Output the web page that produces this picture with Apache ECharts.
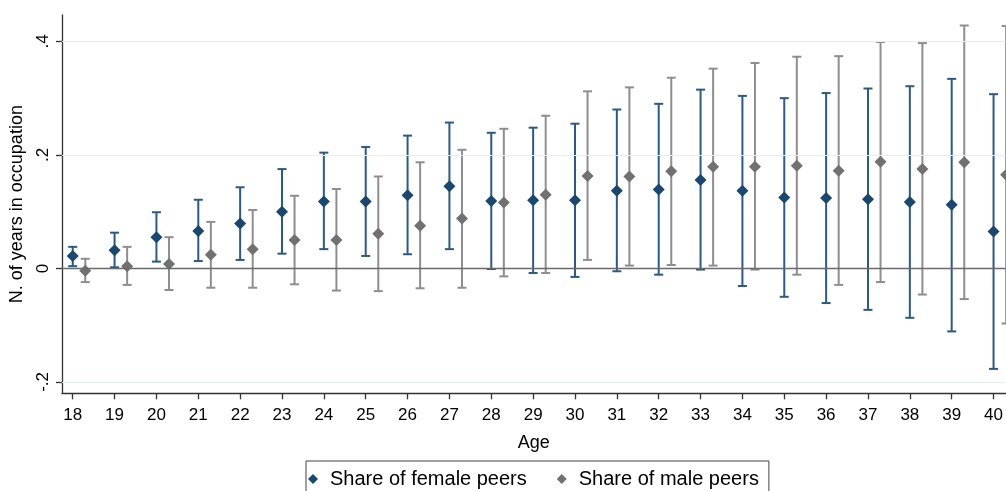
<!DOCTYPE html>
<html>
<head>
<meta charset="utf-8">
<script src="https://cdn.jsdelivr.net/npm/echarts@6/dist/echarts.min.js"></script>
<style>
html,body{margin:0;padding:0;background:#fff;}
#chart{width:1006px;height:491px;}
</style>
</head>
<body>
<div id="chart"></div>
<script>
const ages = [18,19,20,21,22,23,24,25,26,27,28,29,30,31,32,33,34,35,36,37,38,39,40];
const femaleEst = [0.022,0.032,0.055,0.066,0.079,0.100,0.118,0.118,0.129,0.145,0.119,0.120,0.120,0.137,0.139,0.156,0.137,0.125,0.124,0.122,0.117,0.112,0.065];
const femaleLo  = [0.004,0.002,0.012,0.013,0.015,0.026,0.034,0.022,0.025,0.034,-0.001,-0.008,-0.015,-0.005,-0.011,-0.002,-0.031,-0.050,-0.061,-0.073,-0.087,-0.111,-0.177];
const femaleHi  = [0.038,0.063,0.099,0.121,0.143,0.175,0.204,0.214,0.234,0.257,0.239,0.248,0.255,0.280,0.290,0.315,0.304,0.300,0.309,0.317,0.321,0.334,0.307];
const maleEst = [-0.004,0.004,0.008,0.024,0.034,0.050,0.050,0.061,0.075,0.088,0.116,0.130,0.163,0.162,0.171,0.179,0.179,0.181,0.172,0.188,0.175,0.187,0.165];
const maleLo  = [-0.024,-0.029,-0.038,-0.034,-0.034,-0.028,-0.039,-0.040,-0.035,-0.034,-0.014,-0.008,0.015,0.005,0.006,0.005,-0.002,-0.011,-0.029,-0.024,-0.046,-0.054,-0.097];
const maleHi  = [0.017,0.038,0.055,0.082,0.103,0.128,0.140,0.162,0.187,0.209,0.246,0.269,0.312,0.319,0.336,0.352,0.362,0.373,0.374,0.399,0.397,0.428,0.427];
const yTicks = [-0.2, 0, 0.2, 0.4];
const seriesNames = ['Share of female peers', 'Share of male peers'];
const xTitle = 'Age';
const yTitle = 'N. of years in occupation';

const MALE_OFFSET = 0.3;
const FEMALE_COLOR = '#1a476f';
const FEMALE_BAR = '#2b5a86';
const MALE_COLOR = '#717171';
const MALE_BAR = '#8e8e8e';
const FONT = 'Liberation Sans, Arial, sans-serif';

function fmtY(v){
  if (v === 0) return '0';
  const s = String(Math.abs(v)).replace(/^0/, '');
  return (v < 0 ? '-' : '') + s;
}

function errRender(color){
  return function(params, api){
    const x = api.value(0), lo = api.value(1), hi = api.value(2);
    const a = api.coord([x, lo]), b = api.coord([x, hi]);
    const w = 4.5;
    const st = {stroke: color, lineWidth: 2};
    return {type: 'group', children: [
      {type: 'line', shape: {x1: a[0], y1: a[1], x2: b[0], y2: b[1]}, style: st},
      {type: 'line', shape: {x1: a[0]-w, y1: a[1], x2: a[0]+w, y2: a[1]}, style: st},
      {type: 'line', shape: {x1: b[0]-w, y1: b[1], x2: b[0]+w, y2: b[1]}, style: st}
    ]};
  };
}

const femaleErr = ages.map((a,i)=>[a, femaleLo[i], femaleHi[i]]);
const maleErr = ages.map((a,i)=>[a+MALE_OFFSET, maleLo[i], maleHi[i]]);
const femalePts = ages.map((a,i)=>[a, femaleEst[i]]);
const malePts = ages.map((a,i)=>[a+MALE_OFFSET, maleEst[i]]);

const chart = echarts.init(document.getElementById('chart'), null, {renderer:'canvas'});
chart.setOption({
  animation: false,
  backgroundColor: '#ffffff',
  grid: {left: 62, right: 0, top: 15, bottom: 97.7, containLabel: false},
  xAxis: {
    type: 'value', min: 17.744, max: 40.29,
    name: xTitle, nameLocation: 'middle', nameGap: 41,
    nameTextStyle: {fontFamily: FONT, fontSize: 18, color: '#000'},
    axisLine: {show: true, onZero: false, lineStyle: {color: '#333', width: 1.3}},
    axisTick: {show: true, length: 6, customValues: ages, lineStyle: {color: '#333', width: 1.3}},
    axisLabel: {customValues: ages, fontFamily: FONT, fontSize: 17, color: '#000', margin: 14},
    splitLine: {show: false}
  },
  yAxis: {
    type: 'value', min: -0.220, max: 0.4465,
    name: yTitle, nameLocation: 'middle', nameGap: 36, nameRotate: 90,
    nameTextStyle: {fontFamily: FONT, fontSize: 18, color: '#000'},
    axisLine: {show: true, onZero: false, lineStyle: {color: '#333', width: 1.3}},
    axisTick: {show: true, length: 6, customValues: yTicks, lineStyle: {color: '#333', width: 1.3}},
    axisLabel: {customValues: yTicks, rotate: 90, formatter: fmtY, fontFamily: FONT, fontSize: 17, color: '#000', margin: 10},
    splitLine: {show: false}
  },
  legend: {
    data: seriesNames.map(n=>({name: n, icon: 'diamond'})),
    left: 306, top: 461,
    orient: 'horizontal',
    itemWidth: 10, itemHeight: 10, itemGap: 30,
    padding: [6, 10, 20, 2],
    borderColor: '#444', borderWidth: 1, borderRadius: 0,
    textStyle: {fontFamily: FONT, fontSize: 20, color: '#000', lineHeight: 24, padding: [0,0,0,7]}
  },
  series: [
    {
      type: 'line', data: [], silent: true, z: 0,
      markLine: {
        silent: true, symbol: 'none', label: {show: false}, animation: false,
        data: yTicks.map(v => ({yAxis: v, lineStyle: {type: 'solid', width: v === 0 ? 1.3 : 1.2, color: v === 0 ? '#6a6a6a' : '#e6eef1'}}))
      }
    },
    {type: 'custom', renderItem: errRender(FEMALE_BAR), data: femaleErr, encode: {x: 0, y: [1,2]}, clip: false, z: 2, silent: true},
    {type: 'custom', renderItem: errRender(MALE_BAR), data: maleErr, encode: {x: 0, y: [1,2]}, clip: false, z: 2, silent: true},
    {name: seriesNames[0], type: 'scatter', data: femalePts, symbol: 'diamond', symbolSize: 12, itemStyle: {color: FEMALE_COLOR, opacity: 1}, clip: false, z: 3},
    {name: seriesNames[1], type: 'scatter', data: malePts, symbol: 'diamond', symbolSize: 12, itemStyle: {color: MALE_COLOR, opacity: 1}, clip: false, z: 3}
  ]
});
</script>
</body>
</html>
